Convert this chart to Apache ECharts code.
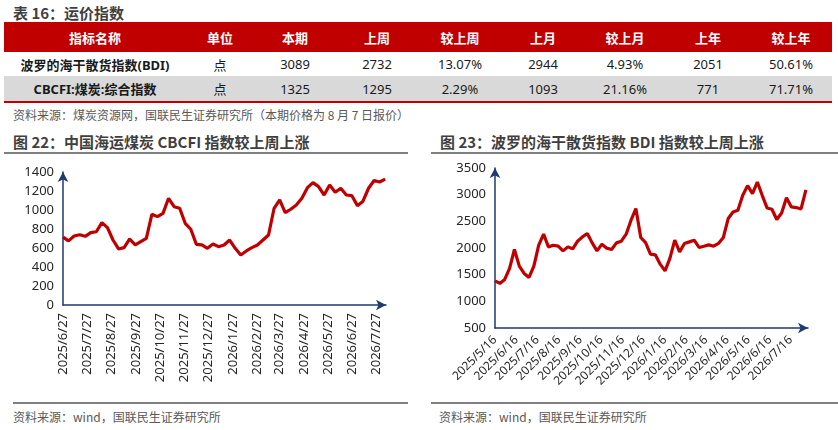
<!DOCTYPE html>
<html>
<head>
<meta charset="utf-8">
<script src="https://cdn.jsdelivr.net/npm/echarts@6/dist/echarts.min.js"></script>
<style>
  html,body{margin:0;padding:0;background:#fff;}
  body{width:838px;height:430px;position:relative;overflow:hidden;font-family:"Noto Sans","Noto Sans CJK SC",sans-serif;}
  .t{position:absolute;white-space:nowrap;}
  .title{font-weight:bold;font-size:15px;color:#3f3f3f;font-family:"Noto Sans CJK SC","Noto Sans",sans-serif;}
  .src{font-size:12px;color:#595959;font-family:"Noto Sans CJK SC","Noto Sans",sans-serif;}
  table{position:absolute;left:4px;top:22px;border-collapse:collapse;table-layout:fixed;width:828px;font-family:"Noto Sans","Noto Sans CJK SC",sans-serif;}
  th{background:#c00000;color:#fff;font-weight:bold;font-size:13px;height:30px;padding:0;text-align:center;font-family:"Noto Sans CJK SC",sans-serif;}
  td{font-size:13px;color:#1a1a1a;text-align:center;padding:0;}
  tr.r1 td{height:24px;background:#fff;}
  tr.r2 td{height:25px;background:#d9d9d9;border-bottom:2px solid #c00000;}
  td.name{font-weight:bold;font-family:"Noto Sans","Noto Sans CJK SC",sans-serif;}
  .hl{position:absolute;height:2px;background:#808080;}
  .chart{position:absolute;}
</style>
</head>
<body>
<div class="t title" style="left:13px;top:2px;">表 16：运价指数</div>
<table id="tbl"></table>
<div class="t src" style="left:13px;top:106px;">资料来源：煤炭资源网，国联民生证券研究所（本期价格为 8 月 7 日报价）</div>

<div class="t title" style="left:13px;top:131px;">图 22：中国海运煤炭 CBCFI 指数较上周上涨</div>
<div class="hl" style="left:4px;top:152px;width:404px;"></div>
<div class="t title" style="left:440px;top:131px;">图 23：波罗的海干散货指数 BDI 指数较上周上涨</div>
<div class="hl" style="left:431px;top:152px;width:407px;"></div>

<div id="c1" class="chart" style="left:0;top:155px;width:418px;height:245px;"></div>
<div id="c2" class="chart" style="left:418px;top:155px;width:420px;height:245px;"></div>

<div class="hl" style="left:13px;top:402px;width:395px;"></div>
<div class="t src" style="left:13px;top:408px;">资料来源：wind，国联民生证券研究所</div>
<div class="hl" style="left:431px;top:402px;width:407px;"></div>
<div class="t src" style="left:439px;top:408px;">资料来源：wind，国联民生证券研究所</div>

<script>
// ---- table data ----
const tableHeaders = ['指标名称','单位','本期','上周','较上周','上月','较上月','上年','较上年'];
const rowBDI = ['波罗的海干散货指数(BDI)','点','3089','2732','13.07%','2944','4.93%','2051','50.61%'];
const rowCBCFI = ['CBCFI:煤炭:综合指数','点','1325','1295','2.29%','1093','21.16%','771','71.71%'];

// ---- chart 22: CBCFI weekly (Fridays) ----
const cbcfiStart = '2025/6/27';
const cbcfiValues = [715,675,726,740,723,762,771,867,814,684,
  590,604,695,632,667,702,955,930,965,1123,
  1035,1018,860,797,639,632,597,642,614,632,
  684,597,527,569,604,632,684,737,1018,1106,
  972,1008,1053,1123,1235,1288,1246,1158,1264,1187,
  1229,1158,1151,1046,1093,1229,1310,1295,1325];
const cbcfiTicks = ['2025/6/27','2025/7/27','2025/8/27','2025/9/27','2025/10/27','2025/11/27','2025/12/27',
  '2026/1/27','2026/2/27','2026/3/27','2026/4/27','2026/5/27','2026/6/27','2026/7/27'];
const cbcfiAxisEnd = '2026/8/8';

// ---- chart 23: BDI weekly (Fridays) ----
const bdiStart = '2025/5/16';
const bdiValues = [1385,1336,1411,1617,1972,1660,1523,1449,1660,2053,
  2259,2021,2051,2034,1946,2021,1984,2128,2208,2272,
  2096,1946,2072,1997,1972,2096,2128,2259,2521,2740,
  2197,2100,1885,1872,1697,1572,1804,2147,1928,2085,
  2115,2147,2010,2034,2059,2034,2085,2197,2552,2676,
  2708,2988,3170,3020,3237,2988,2751,2727,2534,2657,
  2944,2770,2758,2732,3089];
const bdiTicks = ['2025/5/16','2025/6/16','2025/7/16','2025/8/16','2025/9/16','2025/10/16','2025/11/16','2025/12/16',
  '2026/1/16','2026/2/16','2026/3/16','2026/4/16','2026/5/16','2026/6/16','2026/7/16'];
const bdiAxisEnd = '2026/8/10';

// ---- build table ----
(function(){
  const tbl = document.getElementById('tbl');
  const widths = [182,68,82,82,84,82,82,84,82];
  let html = '<colgroup>' + widths.map(w=>'<col style="width:'+w+'px">').join('') + '</colgroup>';
  html += '<tr>' + tableHeaders.map(h=>'<th>'+h+'</th>').join('') + '</tr>';
  [[rowBDI,'r1'],[rowCBCFI,'r2']].forEach(([r,c])=>{
    html += '<tr class="'+c+'">' + r.map((v,i)=>'<td'+(i===0?' class="name"':'')+'>'+v+'</td>').join('') + '</tr>';
  });
  tbl.innerHTML = html;
})();

const DAY = 86400000;
function parseDate(s){ const p = s.split('/').map(Number); return Date.UTC(p[0], p[1]-1, p[2]) / DAY; }
function weekly(start, values){
  const t0 = parseDate(start);
  return values.map((v,i)=>[t0 + 7*i, v]);
}
function fmt(v){ const d = new Date(Math.round(v) * DAY); return d.getUTCFullYear()+'/'+(d.getUTCMonth()+1)+'/'+d.getUTCDate(); }

const axisColor = '#1f3a6e';
function makeOption(o){
  return {
    animation:false,
    grid:o.grid,
    xAxis:{
      type:'value', scale:true,
      min:parseDate(o.start), max:parseDate(o.end),
      axisLine:{show:true, onZero:false, symbol:['none','arrow'], symbolSize:[8,10], lineStyle:{color:axisColor, width:1.5}},
      axisTick:{show:false},
      splitLine:{show:false},
      axisLabel:{customValues:o.ticks.map(parseDate), formatter:fmt, rotate:o.rotate, fontSize:o.xfs,
        color:'#262626', margin:o.xmargin, hideOverlap:false, showMinLabel:true, showMaxLabel:true, fontFamily:'Noto Sans'}
    },
    yAxis:{
      type:'value', min:o.ymin, max:o.ymax, interval:o.yint,
      axisLine:{show:true, onZero:false, symbol:['none','arrow'], symbolSize:[8,10], lineStyle:{color:axisColor, width:1.5}},
      axisTick:{show:false},
      splitLine:{show:false},
      axisLabel:{fontSize:13, color:'#262626', margin:9, fontFamily:'Noto Sans', formatter:v=>String(v)}
    },
    series:[{type:'line', data:weekly(o.start, o.values), showSymbol:false, symbol:'none',
      lineStyle:{color:'#c00000', width:3.2}, itemStyle:{color:'#c00000'}}]
  };
}

const c1 = echarts.init(document.getElementById('c1'));
c1.setOption(makeOption({
  grid:{left:63, right:32, top:17, bottom:95},
  start:cbcfiStart, end:cbcfiAxisEnd, ticks:cbcfiTicks, values:cbcfiValues,
  rotate:90, xfs:13, xmargin:8, ymin:0, ymax:1400, yint:200
}));
const c2 = echarts.init(document.getElementById('c2'));
c2.setOption(makeOption({
  grid:{left:77, right:30, top:13, bottom:72},
  start:bdiStart, end:bdiAxisEnd, ticks:bdiTicks, values:bdiValues,
  rotate:45, xfs:12, xmargin:10, ymin:500, ymax:3500, yint:500
}));
</script>
</body>
</html>
